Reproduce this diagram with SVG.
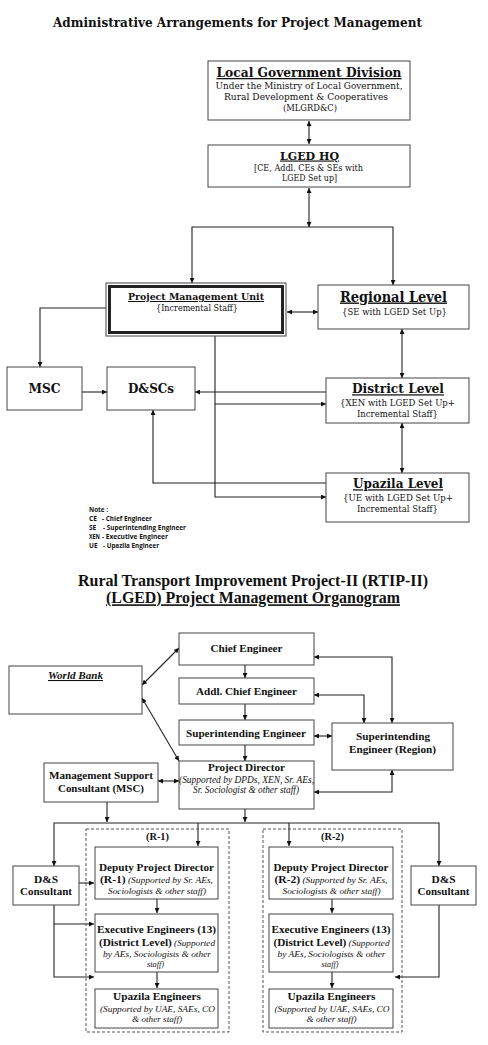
<svg xmlns="http://www.w3.org/2000/svg" width="488" height="1045" viewBox="0 0 488 1045">
<style>
.bx{fill:#fff;stroke:#444;stroke-width:1}
.dx{fill:none;stroke:#555;stroke-width:1;stroke-dasharray:3,2}
.ln{fill:none;stroke:#222;stroke-width:1.1}
.two{marker-start:url(#ar);marker-end:url(#ar)}
.one{marker-end:url(#ar)}
text{fill:#111;text-anchor:middle}
.sb{font-family:'DejaVu Serif','Liberation Serif',serif;font-weight:bold}
.sr{font-family:'DejaVu Serif','Liberation Serif',serif}
.tb{font-family:'Liberation Serif','Times New Roman',serif;font-weight:bold}
.ti{font-family:'Liberation Serif','Times New Roman',serif;font-style:italic}
.nt{font-family:'Open Sans','Liberation Sans',sans-serif;font-weight:bold;font-size:6.5px;text-anchor:start}
.u{text-decoration:underline}
</style>
<defs>
<marker id="ar" viewBox="0 0 10 10" refX="10" refY="5" markerWidth="5" markerHeight="5" markerUnits="userSpaceOnUse" orient="auto-start-reverse">
<path d="M0,0 L10,5 L0,10 z" fill="#111"/>
</marker>
</defs>

<!-- ===== TOP DIAGRAM ===== -->
<text class="sb" x="237.5" y="27" font-size="12.5" textLength="369" lengthAdjust="spacingAndGlyphs">Administrative Arrangements for Project Management</text>

<g id="connectors-top">
<path class="ln two" d="M309,121 V144"/>
<path class="ln two" d="M309,188 V227"/>
<path class="ln one" d="M309,227 H192 V283"/>
<path class="ln one" d="M309,227 H393 V285"/>
<path class="ln two" d="M287,312 H318"/>
<path class="ln one" d="M106,308 H40 V367"/>
<path class="ln one" d="M82,392 H107"/>
<path class="ln one" d="M326,392 H195"/>
<path class="ln one" d="M215,336 V497 H326"/>
<path class="ln one" d="M215,404 H326"/>
<path class="ln two" d="M402,329 V378"/>
<path class="ln two" d="M402,423 V473"/>
<path class="ln one" d="M326,483 H153 V410"/>
</g>

<g id="lgd">
<rect class="bx" x="208" y="61" width="202" height="59"/>
<text class="sb u" x="309" y="77" font-size="13" textLength="185" lengthAdjust="spacingAndGlyphs">Local Government Division</text>
<text class="sr" x="309" y="89" font-size="9" textLength="187" lengthAdjust="spacingAndGlyphs">Under the Ministry of Local Government,</text>
<text class="sr" x="306" y="100" font-size="9" textLength="164" lengthAdjust="spacingAndGlyphs">Rural Development &amp; Cooperatives</text>
<text class="sr" x="310" y="110.5" font-size="9" textLength="54" lengthAdjust="spacingAndGlyphs">(MLGRD&amp;C)</text>
</g>

<g id="lged-hq">
<rect class="bx" x="208" y="145" width="202" height="42"/>
<text class="sb u" x="309.5" y="159.5" font-size="11.5" textLength="59" lengthAdjust="spacingAndGlyphs">LGED HQ</text>
<text class="sr" x="308.5" y="171" font-size="9" textLength="109" lengthAdjust="spacingAndGlyphs">[CE, Addl. CEs &amp; SEs with</text>
<text class="sr" x="309.5" y="181" font-size="9" textLength="55" lengthAdjust="spacingAndGlyphs">LGED Set up]</text>
</g>

<g id="pmu">
<rect x="106" y="283" width="180" height="53" fill="#fff" stroke="#444" stroke-width="1"/>
<rect x="109.5" y="286.5" width="173" height="46" fill="none" stroke="#222" stroke-width="3"/>
<text class="sb u" x="196" y="300" font-size="10" textLength="136" lengthAdjust="spacingAndGlyphs">Project Management Unit</text>
<text class="sr" x="197" y="311" font-size="8.5" textLength="82" lengthAdjust="spacingAndGlyphs">{Incremental Staff}</text>
</g>

<g id="regional">
<rect class="bx" x="318" y="285" width="151" height="44"/>
<text class="sb u" x="393.5" y="301.5" font-size="14" textLength="107" lengthAdjust="spacingAndGlyphs">Regional Level</text>
<text class="sr" x="394.5" y="315" font-size="8.5" textLength="105" lengthAdjust="spacingAndGlyphs">{SE with LGED Set Up}</text>
</g>

<g id="msc-top">
<rect class="bx" x="7" y="367" width="75" height="43"/>
<text class="sb" x="44.5" y="392.5" font-size="12" textLength="32" lengthAdjust="spacingAndGlyphs">MSC</text>
</g>

<g id="dscs">
<rect class="bx" x="107" y="367" width="88" height="43"/>
<text class="sb" x="151" y="392.5" font-size="12" textLength="46" lengthAdjust="spacingAndGlyphs">D&amp;SCs</text>
</g>

<g id="district">
<rect class="bx" x="326" y="378" width="143" height="45"/>
<text class="sb u" x="398" y="393.3" font-size="12.5" textLength="92" lengthAdjust="spacingAndGlyphs">District Level</text>
<text class="sr" x="397.5" y="405.7" font-size="9" textLength="115" lengthAdjust="spacingAndGlyphs">{XEN with LGED Set Up+</text>
<text class="sr" x="397.5" y="416.7" font-size="9" textLength="81" lengthAdjust="spacingAndGlyphs">Incremental Staff}</text>
</g>

<g id="upazila">
<rect class="bx" x="326" y="473" width="143" height="49"/>
<text class="sb u" x="398" y="488.3" font-size="12.5" textLength="90" lengthAdjust="spacingAndGlyphs">Upazila Level</text>
<text class="sr" x="398" y="501" font-size="9" textLength="110" lengthAdjust="spacingAndGlyphs">{UE with LGED Set Up+</text>
<text class="sr" x="397.5" y="511.7" font-size="9" textLength="81" lengthAdjust="spacingAndGlyphs">Incremental Staff}</text>
</g>

<g id="note">
<text class="nt" x="89" y="511.7" textLength="19" lengthAdjust="spacingAndGlyphs">Note :</text>
<text class="nt" x="89" y="520.7">CE</text>
<text class="nt" x="102" y="520.7" textLength="50" lengthAdjust="spacingAndGlyphs">- Chief Engineer</text>
<text class="nt" x="89" y="529.7">SE</text>
<text class="nt" x="103" y="529.7" textLength="83" lengthAdjust="spacingAndGlyphs">- Superintending Engineer</text>
<text class="nt" x="89" y="538.7" textLength="11" lengthAdjust="spacingAndGlyphs">XEN</text>
<text class="nt" x="102" y="538.7" textLength="66" lengthAdjust="spacingAndGlyphs">- Executive Engineer</text>
<text class="nt" x="89" y="547.5">UE</text>
<text class="nt" x="103" y="547.5" textLength="56" lengthAdjust="spacingAndGlyphs">- Upazila Engineer</text>
</g>

<!-- ===== BOTTOM DIAGRAM ===== -->
<text class="tb" x="253" y="585.7" font-size="16" textLength="350" lengthAdjust="spacingAndGlyphs">Rural Transport Improvement Project-II (RTIP-II)</text>
<text class="tb u" x="253" y="603.3" font-size="16" textLength="294" lengthAdjust="spacingAndGlyphs">(LGED) Project Management Organogram</text>

<g id="connectors-bottom">
<path class="ln two" d="M142,685 L179,648"/>
<path class="ln one" d="M245,665 V678"/>
<path class="ln one" d="M245,704 V720"/>
<path class="ln one" d="M245,745 V761"/>
<path class="ln two" d="M314,657 H392 V723"/>
<path class="ln two" d="M314,695 H364 V723"/>
<path class="ln two" d="M314,736 H332"/>
<path class="ln two" d="M314,792 H392 V770"/>
<path class="ln two" d="M142,698 L179,761"/>
<path class="ln two" d="M158,781 H179"/>
<path class="ln one" d="M107,802 V822"/>
<path class="ln one" d="M245,809 V822"/>
<path class="ln two" d="M54,866 V823 H439 V866"/>
<path class="ln one" d="M198,823 V846"/>
<path class="ln one" d="M289,823 V846"/>
<path class="ln one" d="M79,883 H94"/>
<path class="ln one" d="M54,905 V977 H94"/>
<path class="ln one" d="M54,924 H94"/>
<path class="ln one" d="M439,905 V977 H395"/>
<path class="ln one" d="M157,899 V913"/>
<path class="ln one" d="M157,972 V988"/>
<path class="ln one" d="M332,899 V913"/>
<path class="ln one" d="M332,972 V988"/>
</g>

<g id="chief-engineer">
<rect class="bx" x="179" y="633" width="135" height="32"/>
<text class="tb" x="246.5" y="652" font-size="11" textLength="72" lengthAdjust="spacingAndGlyphs">Chief Engineer</text>
</g>

<g id="world-bank">
<rect class="bx" x="9" y="666" width="133" height="48"/>
<text class="tb u" x="75.5" y="679" font-size="10.5" font-style="italic" textLength="55" lengthAdjust="spacingAndGlyphs">World Bank</text>
</g>

<g id="addl-chief-engineer">
<rect class="bx" x="179" y="678" width="135" height="26"/>
<text class="tb" x="246.5" y="695" font-size="11" textLength="101" lengthAdjust="spacingAndGlyphs">Addl. Chief Engineer</text>
</g>

<g id="superintending-engineer">
<rect class="bx" x="179" y="720" width="135" height="25"/>
<text class="tb" x="246" y="737" font-size="11" textLength="120" lengthAdjust="spacingAndGlyphs">Superintending Engineer</text>
</g>

<g id="se-region">
<rect class="bx" x="332" y="723" width="121" height="47"/>
<text class="tb" x="393" y="740" font-size="11" textLength="74" lengthAdjust="spacingAndGlyphs">Superintending</text>
<text class="tb" x="392.5" y="753" font-size="11" textLength="87" lengthAdjust="spacingAndGlyphs">Engineer (Region)</text>
</g>

<g id="project-director">
<rect class="bx" x="179" y="761" width="135" height="48"/>
<text class="tb" x="246.5" y="770.5" font-size="11" textLength="77" lengthAdjust="spacingAndGlyphs">Project Director</text>
<text class="ti" x="246.5" y="783" font-size="9.5" textLength="135" lengthAdjust="spacingAndGlyphs">(Supported by DPDs, XEN, Sr. AEs,</text>
<text class="ti" x="246" y="793" font-size="9.5" textLength="106" lengthAdjust="spacingAndGlyphs">Sr. Sociologist &amp; other staff)</text>
</g>

<g id="msc-bottom">
<rect class="bx" x="44" y="763" width="114" height="39"/>
<text class="tb" x="101" y="779" font-size="11" textLength="104" lengthAdjust="spacingAndGlyphs">Management Support</text>
<text class="tb" x="101" y="792" font-size="11" textLength="86" lengthAdjust="spacingAndGlyphs">Consultant (MSC)</text>
</g>

<g id="region-1">
<rect class="dx" x="86" y="829" width="143" height="203"/>
<text class="tb" x="157.5" y="840" font-size="11" textLength="23" lengthAdjust="spacingAndGlyphs">(R-1)</text>
</g>

<g id="region-2">
<rect class="dx" x="263" y="829" width="139" height="203"/>
<text class="tb" x="332.5" y="840" font-size="11" textLength="23" lengthAdjust="spacingAndGlyphs">(R-2)</text>
</g>

<g id="dpd-r1">
<rect class="bx" x="95" y="847" width="123" height="52"/>
<text class="tb" x="156.5" y="871" font-size="11" textLength="115" lengthAdjust="spacingAndGlyphs">Deputy Project Director</text>
<text x="156.5" y="883" textLength="113" lengthAdjust="spacingAndGlyphs"><tspan class="tb" font-size="11">(R-1)</tspan><tspan class="ti" font-size="9"> (Supported by Sr. AEs,</tspan></text>
<text class="ti" x="157" y="894" font-size="9" textLength="98" lengthAdjust="spacingAndGlyphs">Sociologists &amp; other staff)</text>
</g>

<g id="dpd-r2">
<rect class="bx" x="269" y="847" width="124" height="52"/>
<text class="tb" x="331" y="871" font-size="11" textLength="115" lengthAdjust="spacingAndGlyphs">Deputy Project Director</text>
<text x="331" y="883" textLength="113" lengthAdjust="spacingAndGlyphs"><tspan class="tb" font-size="11">(R-2)</tspan><tspan class="ti" font-size="9"> (Supported by Sr. AEs,</tspan></text>
<text class="ti" x="331.5" y="894" font-size="9" textLength="98" lengthAdjust="spacingAndGlyphs">Sociologists &amp; other staff)</text>
</g>

<g id="ee-r1">
<rect class="bx" x="95" y="914" width="123" height="58"/>
<text class="tb" x="156.5" y="933" font-size="11" textLength="119" lengthAdjust="spacingAndGlyphs">Executive Engineers (13)</text>
<text x="157" y="946" textLength="116" lengthAdjust="spacingAndGlyphs"><tspan class="tb" font-size="11">(District Level)</tspan><tspan class="ti" font-size="9"> (Supported</tspan></text>
<text class="ti" x="157" y="957" font-size="9" textLength="108" lengthAdjust="spacingAndGlyphs">by AEs, Sociologists &amp; other</text>
<text class="ti" x="155.5" y="967" font-size="9" textLength="17" lengthAdjust="spacingAndGlyphs">staff)</text>
</g>

<g id="ee-r2">
<rect class="bx" x="269" y="914" width="124" height="58"/>
<text class="tb" x="331" y="933" font-size="11" textLength="119" lengthAdjust="spacingAndGlyphs">Executive Engineers (13)</text>
<text x="331.5" y="946" textLength="116" lengthAdjust="spacingAndGlyphs"><tspan class="tb" font-size="11">(District Level)</tspan><tspan class="ti" font-size="9"> (Supported</tspan></text>
<text class="ti" x="331.5" y="957" font-size="9" textLength="108" lengthAdjust="spacingAndGlyphs">by AEs, Sociologists &amp; other</text>
<text class="ti" x="330" y="967" font-size="9" textLength="17" lengthAdjust="spacingAndGlyphs">staff)</text>
</g>

<g id="ue-r1">
<rect class="bx" x="95" y="989" width="123" height="39"/>
<text class="tb" x="157" y="1000" font-size="11" textLength="88" lengthAdjust="spacingAndGlyphs">Upazila Engineers</text>
<text class="ti" x="157.5" y="1011.5" font-size="9" textLength="115" lengthAdjust="spacingAndGlyphs">(Supported by UAE, SAEs, CO</text>
<text class="ti" x="157" y="1022" font-size="9" textLength="50" lengthAdjust="spacingAndGlyphs">&amp; other staff)</text>
</g>

<g id="ue-r2">
<rect class="bx" x="269" y="989" width="124" height="39"/>
<text class="tb" x="331.5" y="1000" font-size="11" textLength="88" lengthAdjust="spacingAndGlyphs">Upazila Engineers</text>
<text class="ti" x="332" y="1011.5" font-size="9" textLength="115" lengthAdjust="spacingAndGlyphs">(Supported by UAE, SAEs, CO</text>
<text class="ti" x="331.5" y="1022" font-size="9" textLength="50" lengthAdjust="spacingAndGlyphs">&amp; other staff)</text>
</g>

<g id="ds-left">
<rect class="bx" x="13" y="866" width="66" height="39"/>
<text class="tb" x="46" y="883" font-size="11" textLength="24" lengthAdjust="spacingAndGlyphs">D&amp;S</text>
<text class="tb" x="46" y="895" font-size="11" textLength="52" lengthAdjust="spacingAndGlyphs">Consultant</text>
</g>

<g id="ds-right">
<rect class="bx" x="411" y="866" width="65" height="39"/>
<text class="tb" x="443.5" y="883" font-size="11" textLength="24" lengthAdjust="spacingAndGlyphs">D&amp;S</text>
<text class="tb" x="443.5" y="895" font-size="11" textLength="52" lengthAdjust="spacingAndGlyphs">Consultant</text>
</g>
</svg>
